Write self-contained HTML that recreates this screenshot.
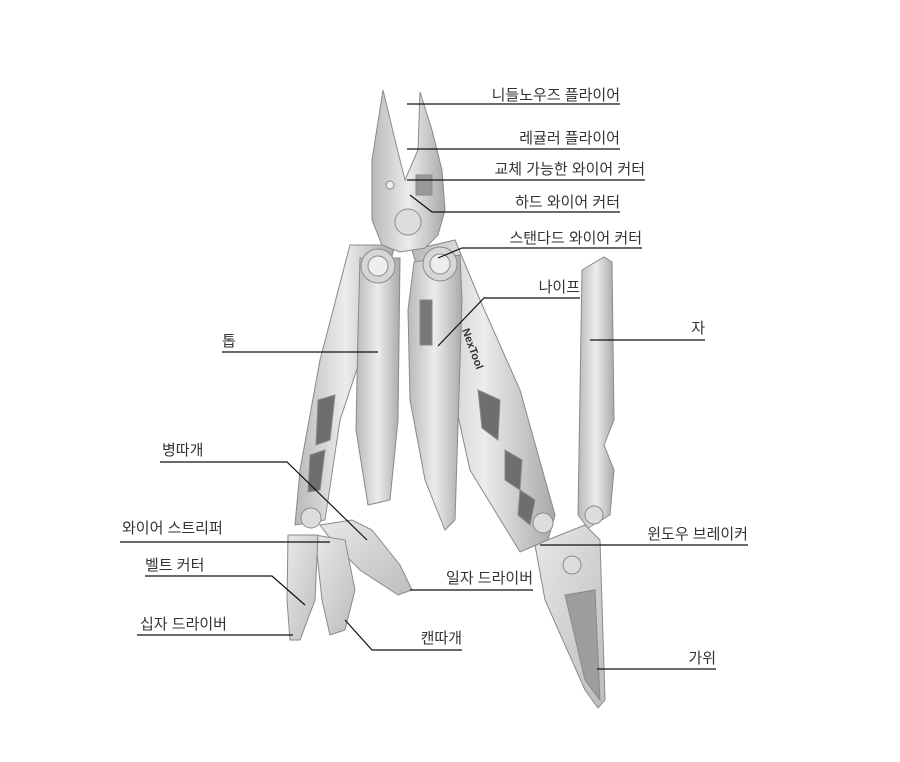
<!DOCTYPE html>
<html><head><meta charset="utf-8"><style>
html,body{margin:0;padding:0;background:#fff;}
svg{display:block}
text{font-family:"Liberation Sans","Noto Sans CJK KR","NanumGothic",sans-serif;font-size:15px;fill:#333;}
.r{text-anchor:end}
</style></head><body>
<svg width="900" height="762" viewBox="0 0 900 762" xmlns="http://www.w3.org/2000/svg">
<defs>
<linearGradient id="m" x1="0" y1="0" x2="1" y2="0">
<stop offset="0" stop-color="#b9b9b9"/><stop offset="0.5" stop-color="#ececec"/><stop offset="1" stop-color="#a9a9a9"/>
</linearGradient>
<linearGradient id="m2" x1="0" y1="0" x2="1" y2="1">
<stop offset="0" stop-color="#e8e8e8"/><stop offset="1" stop-color="#bdbdbd"/>
</linearGradient>
</defs>
<g stroke="#8a8a8a" stroke-width="1">
<path d="M582,270 L604,257 L612,262 L614,420 L604,445 L614,470 L610,515 L588,528 L578,515 Z" fill="url(#m)"/>
<path d="M535,545 L585,525 L600,540 L605,700 L598,708 L585,690 L545,600 Z" fill="url(#m2)"/>
<path d="M565,595 L595,590 L600,700 L585,680 Z" fill="#9d9d9d"/>
<path d="M412,250 L455,240 L480,300 L520,390 L555,515 L548,540 L520,552 L470,470 L450,380 Z" fill="url(#m)"/>
<path d="M478,390 L500,400 L498,440 L482,428Z M505,450 L522,460 L520,490 L505,480Z M520,490 L535,500 L530,525 L518,515Z" fill="#6e6e6e"/>
<path d="M414,262 L460,255 L462,300 L455,520 L445,530 L425,480 L410,400 L408,310 Z" fill="url(#m)"/>
<path d="M420,300 L432,300 L432,345 L420,345Z" fill="#777"/>
<path d="M350,245 L395,245 L380,300 L340,420 L325,520 L295,525 L300,470 L320,360 Z" fill="url(#m)"/>
<path d="M318,400 L335,395 L330,440 L316,445Z M310,455 L325,450 L320,490 L308,492Z" fill="#6e6e6e"/>
<path d="M360,258 L400,258 L398,420 L390,500 L368,505 L356,430 L358,330 Z" fill="url(#m)"/>
<path d="M320,525 L352,520 L372,530 L400,565 L412,590 L398,595 L360,570 L335,545 Z" fill="url(#m2)"/>
<path d="M315,535 L345,540 L355,590 L345,630 L330,635 L322,600 Z" fill="url(#m2)"/>
<path d="M288,535 L318,535 L315,600 L300,640 L290,640 L287,600 Z" fill="url(#m2)"/>
<path d="M383,90 L395,140 L405,180 L418,150 L420,92 L432,130 L442,170 L445,210 L438,235 L425,248 L400,252 L382,245 L372,220 L372,160 Z" fill="url(#m)"/>
<circle cx="408" cy="222" r="13" fill="#ddd"/>
<circle cx="390" cy="185" r="4" fill="#eee"/>
<rect x="416" y="175" width="16" height="20" fill="#999"/>
<circle cx="378" cy="266" r="17" fill="#d6d6d6"/><circle cx="378" cy="266" r="10" fill="#eee"/>
<circle cx="440" cy="264" r="17" fill="#d6d6d6"/><circle cx="440" cy="264" r="10" fill="#eee"/>
<circle cx="311" cy="518" r="10" fill="#ddd"/>
<circle cx="543" cy="523" r="10" fill="#ddd"/>
<circle cx="594" cy="515" r="9" fill="#ddd"/>
<circle cx="572" cy="565" r="9" fill="#ddd"/>
</g>
<text x="462" y="330" transform="rotate(70 462 330)" style="font-size:11px;font-weight:bold">NexTool</text>
<g stroke="#111" stroke-width="1.2" fill="none">
<polyline points="407,104 620,104"/>
<polyline points="407,149 620,149"/>
<polyline points="407,180 645,180"/>
<polyline points="410,195 432,212 620,212"/>
<polyline points="438,258 462,248 642,248"/>
<polyline points="438,346 484,298 580,298"/>
<polyline points="590,340 705,340"/>
<polyline points="222,352 378,352"/>
<polyline points="160,462 287,462 367,540"/>
<polyline points="120,542 330,542"/>
<polyline points="540,545 748,545"/>
<polyline points="145,576 272,576 305,605"/>
<polyline points="410,590 533,590"/>
<polyline points="137,635 293,635"/>
<polyline points="345,620 372,650 462,650"/>
<polyline points="597,669 716,669"/>
</g>
<text class="r" x="620" y="100">니들노우즈 플라이어</text>
<text class="r" x="620" y="143">레귤러 플라이어</text>
<text class="r" x="645" y="174">교체 가능한 와이어 커터</text>
<text class="r" x="620" y="207">하드 와이어 커터</text>
<text class="r" x="642" y="243">스탠다드 와이어 커터</text>
<text class="r" x="580" y="292">나이프</text>
<text class="r" x="705" y="333">자</text>
<text x="222" y="346">톱</text>
<text x="162" y="455">병따개</text>
<text x="122" y="533">와이어 스트리퍼</text>
<text class="r" x="748" y="539">윈도우 브레이커</text>
<text x="145" y="570">벨트 커터</text>
<text class="r" x="533" y="583">일자 드라이버</text>
<text x="140" y="629">십자 드라이버</text>
<text class="r" x="462" y="643">캔따개</text>
<text class="r" x="716" y="663">가위</text>
</svg>
</body></html>
